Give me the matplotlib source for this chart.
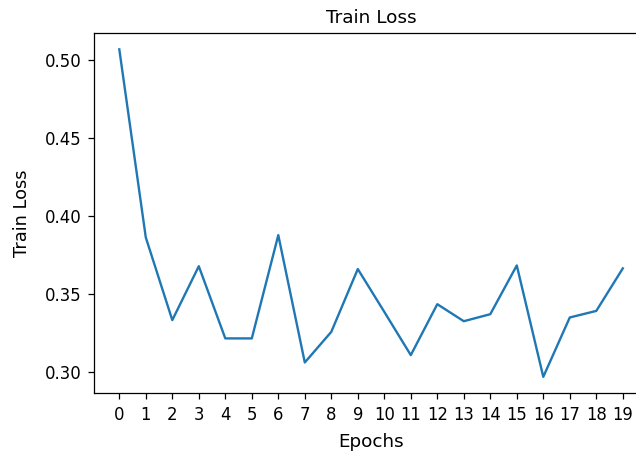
import matplotlib
matplotlib.use("Agg")
import matplotlib.pyplot as plt

epochs = list(range(20))
train_loss = [0.5068, 0.3864, 0.3335, 0.3680, 0.3218, 0.3218, 0.3879, 0.3064,
              0.3260, 0.3662, 0.3388, 0.3111, 0.3437, 0.3328, 0.3373, 0.3685,
              0.2972, 0.3352, 0.3394, 0.3666]
title = "Train Loss"
xlabel = "Epochs"
ylabel = "Train Loss"

plt.rcParams['font.family'] = ['DejaVu Sans']

fig = plt.figure(figsize=(6.36, 4.55), dpi=100)
ax = fig.add_axes([0.148, 0.1358, 0.8708, 0.7917])
ax.plot(epochs, train_loss, color='#1f77b4', linewidth=1.7)
ax.set_xticks(epochs)
ax.set_title(title, fontsize=13.3, pad=7.2)
ax.set_xlabel(xlabel, fontsize=13.2, labelpad=7.0)
ax.set_ylabel(ylabel, fontsize=12.8, labelpad=10.0)
ax.tick_params(labelsize=11.9, length=4.5, width=0.9, pad=4.5)
for sp in ax.spines.values():
    sp.set_linewidth(0.9)
ax.spines['right'].set_visible(False)
fig.savefig("out.png", dpi=100)
